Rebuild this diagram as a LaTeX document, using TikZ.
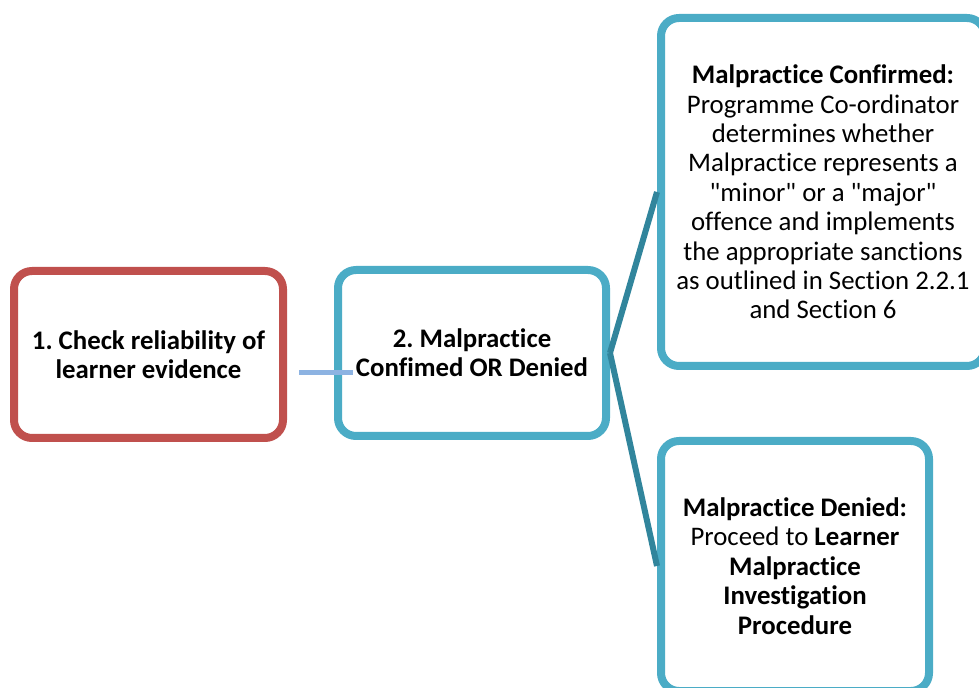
\documentclass[tikz,border=0pt]{standalone}
\usepackage{fontspec}
\setmainfont{Carlito}[Ligatures=NoCommon]
\usepackage[svgnames]{xcolor}
\usepackage{tikz}
\usetikzlibrary{positioning}
\definecolor{boxred}{HTML}{C0504D}
\definecolor{boxteal}{HTML}{4BACC6}
\definecolor{linkteal}{HTML}{31859C}
\definecolor{linkblue}{HTML}{8DB3E2}
\frenchspacing

\begin{document}
\begin{tikzpicture}[line cap=butt,line join=round,x=0.5pt,y=-0.5pt,
  stepbox/.style={draw=boxteal,line width=4pt,rounded corners=9pt,fill=white,align=center,inner sep=0pt,
    font=\fontsize{13.4}{14.7}\selectfont},
  redbox/.style={stepbox,draw=boxred},
  branch/.style={line width=3pt,color=linkteal},
  link/.style={line width=2.5pt,color=linkblue}]
\useasboundingbox (0,0) rectangle (979,688);
\node[redbox,minimum width=134.5pt,minimum height=83.5pt] (check) at (148.5,354.5)
  {\textbf{1. Check reliability of}\\\textbf{learner evidence}};
\node[stepbox,minimum width=134pt,minimum height=83pt] (decide) at (472,353)
  {\textbf{2. Malpractice}\\\textbf{Confimed OR Denied}};
\node[stepbox,minimum width=162pt,minimum height=174pt] (confirmed) at (823,192)
  {\textbf{Malpractice Confirmed:}\\Programme Co-ordinator\\determines whether\\Malpractice represents a\\\textquotedbl minor\textquotedbl{} or a \textquotedbl major\textquotedbl\\offence and implements\\the appropriate sanctions\\as outlined in Section 2.2.1\\and Section 6};
\node[stepbox,minimum width=134pt,minimum height=125pt] (denied) at (795,566)
  {\textbf{Malpractice Denied:}\\Proceed to \textbf{Learner}\\\textbf{Malpractice}\\\textbf{Investigation}\\\textbf{Procedure}};
\coordinate (linkA) at (299,373);
\coordinate (linkB) at (353,373);
\draw[link] (linkA) -- (linkB);
\draw[branch] (decide.east) -- (confirmed.west);
\draw[branch] (decide.east) -- (denied.west);
\end{tikzpicture}
\end{document}
